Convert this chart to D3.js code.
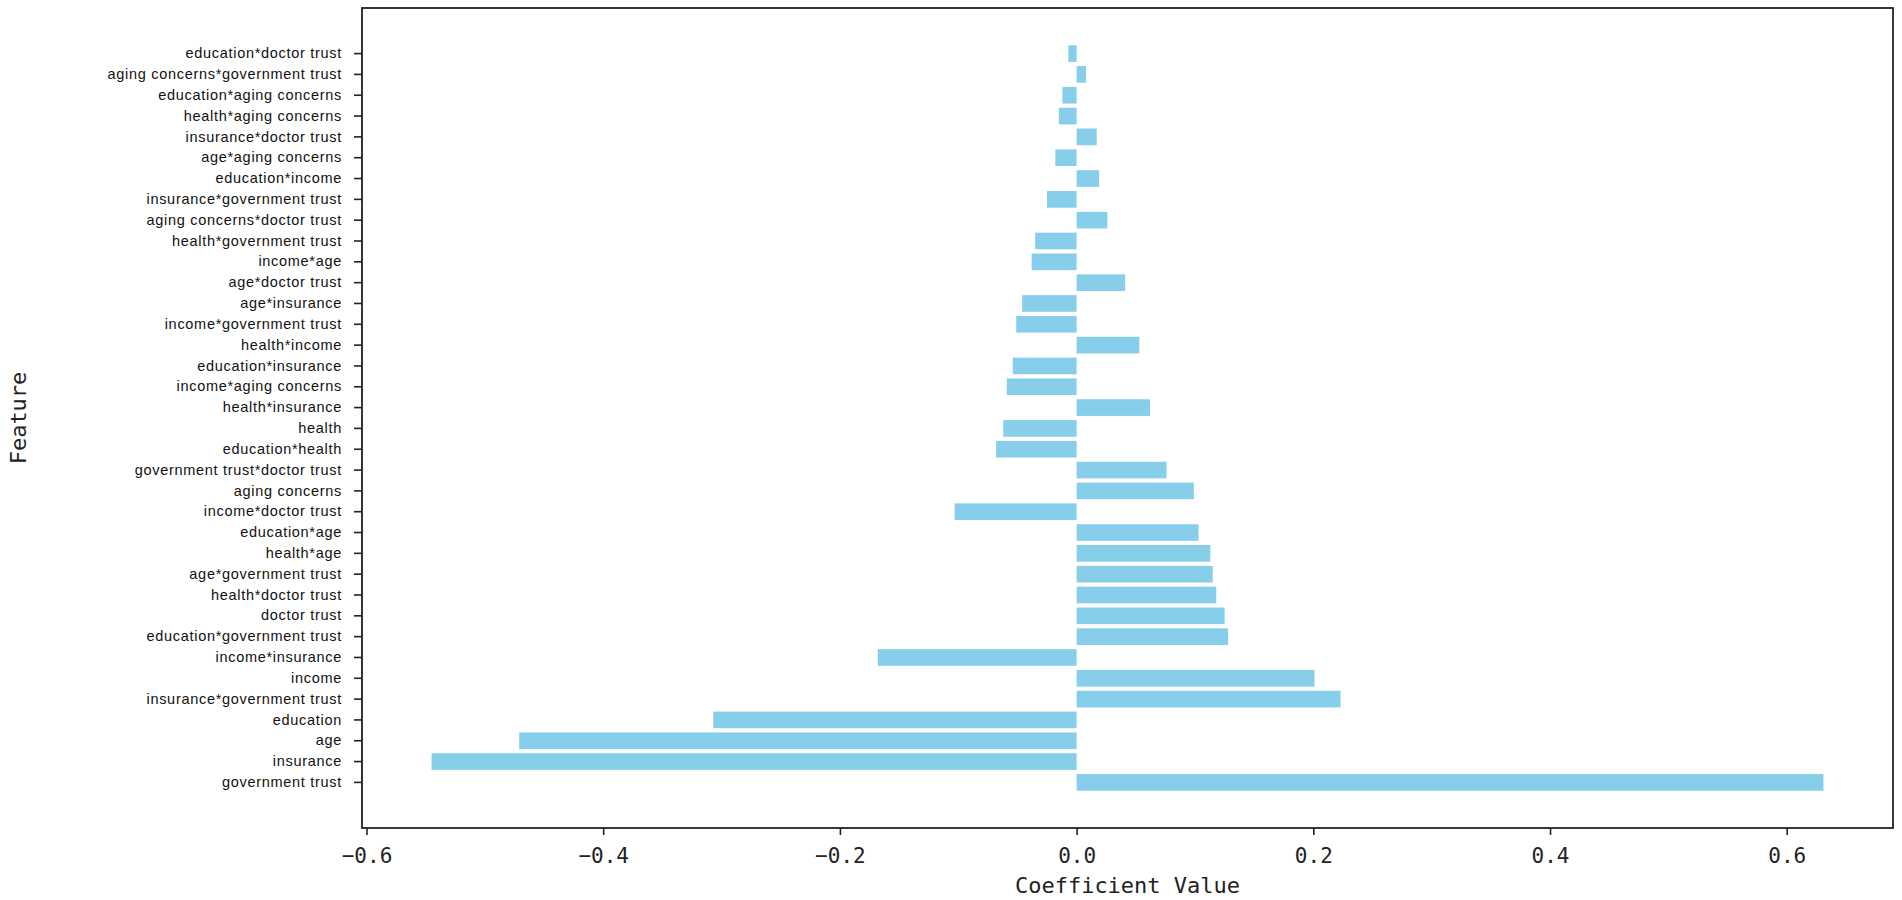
<!DOCTYPE html>
<html lang="en">

<head>
    <meta charset="UTF-8">
    <title>Coefficient Value by Feature</title>
    <script src="https://d3js.org/d3.v7.min.js"></script>
    <style>
        body { margin: 0; background: #fff; }
    </style>
</head>

<body>
    <script>
        // features, ordered from the bottom bar upwards
        var features = [
            "government trust", "insurance", "age", "education",
            "insurance*government trust", "income", "income*insurance",
            "education*government trust", "doctor trust", "health*doctor trust",
            "age*government trust", "health*age", "education*age",
            "income*doctor trust", "aging concerns", "government trust*doctor trust",
            "education*health", "health", "health*insurance",
            "income*aging concerns", "education*insurance", "health*income",
            "income*government trust", "age*insurance", "age*doctor trust",
            "income*age", "health*government trust", "aging concerns*doctor trust",
            "insurance*government trust", "education*income", "age*aging concerns",
            "insurance*doctor trust", "health*aging concerns", "education*aging concerns",
            "aging concerns*government trust", "education*doctor trust"
        ];
        var coefficients = [
            0.631, -0.545, -0.471, -0.307,
            0.223, 0.201, -0.168,
            0.128, 0.125, 0.118,
            0.115, 0.113, 0.103,
            -0.103, 0.099, 0.076,
            -0.068, -0.062, 0.062,
            -0.059, -0.054, 0.053,
            -0.051, -0.046, 0.041,
            -0.038, -0.035, 0.026,
            -0.025, 0.019, -0.018,
            0.017, -0.015, -0.012,
            0.008, -0.007
        ];
        var xTicks = [-0.6, -0.4, -0.2, 0.0, 0.2, 0.4, 0.6];

        var data = features.map(function (f, i) {
            return { feature: f, value: coefficients[i], key: i };
        });

        var width = 1902;
        var height = 900;
        var margin = { top: 8, right: 9, bottom: 72, left: 362 };

        var svg = d3.select("body").append("svg")
            .attr("width", width)
            .attr("height", height);

        // x domain with 5% margins like matplotlib
        var lo = d3.min(coefficients), hi = d3.max(coefficients);
        var pad = (hi - lo) * 0.05;
        var xScale = d3.scaleLinear()
            .domain([lo - pad, hi + pad])
            .range([margin.left, width - margin.right]);

        var yScale = d3.scaleBand()
            .domain(data.map(function (d) { return d.key; }))
            .range([height - margin.bottom, margin.top])
            .paddingInner(0.2)
            .paddingOuter(1.79);

        svg.selectAll("rect.bar")
            .data(data)
            .enter()
            .append("rect")
            .attr("class", "bar")
            .attr("fill", "#87ceeb")
            .attr("x", function (d) { return xScale(Math.min(0, d.value)); })
            .attr("y", function (d) { return yScale(d.key); })
            .attr("width", function (d) { return Math.abs(xScale(d.value) - xScale(0)); })
            .attr("height", yScale.bandwidth());

        // frame
        svg.append("rect")
            .attr("x", margin.left)
            .attr("y", margin.top)
            .attr("width", width - margin.right - margin.left)
            .attr("height", height - margin.bottom - margin.top)
            .attr("fill", "none")
            .attr("stroke", "#222")
            .attr("stroke-width", 1.8);

        var xaxis = d3.axisBottom(xScale)
            .tickValues(xTicks)
            .tickFormat(d3.format(".1f"))
            .tickSize(7)
            .tickPadding(13);

        var gx = svg.append("g")
            .attr("transform", "translate(0," + (height - margin.bottom) + ")")
            .call(xaxis);
        gx.select(".domain").remove();
        gx.selectAll("line").attr("stroke", "#222").attr("stroke-width", 1.6);
        gx.selectAll("text")
            .attr("fill", "#222")
            .style("font-family", "'DejaVu Sans Mono', monospace")
            .style("font-size", "21px");

        var yaxis = d3.axisLeft(yScale)
            .tickFormat(function (k) { return features[k]; })
            .tickSize(8)
            .tickPadding(12);

        var gy = svg.append("g")
            .attr("transform", "translate(" + margin.left + ",0)")
            .call(yaxis);
        gy.select(".domain").remove();
        gy.selectAll("line").attr("stroke", "#222").attr("stroke-width", 1.6);
        gy.selectAll("text")
            .attr("fill", "#111")
            .style("font-family", "'Liberation Sans', Arial, sans-serif")
            .style("font-size", "14.5px")
            .style("letter-spacing", "0.7px");

        // axis titles
        svg.append("text")
            .attr("x", (margin.left + width - margin.right) / 2)
            .attr("y", 893)
            .attr("text-anchor", "middle")
            .attr("fill", "#222")
            .style("font-family", "'DejaVu Sans Mono', monospace")
            .style("font-size", "22px")
            .text("Coefficient Value");

        svg.append("text")
            .attr("transform", "translate(26," + (margin.top + height - margin.bottom) / 2 + ") rotate(-90)")
            .attr("text-anchor", "middle")
            .attr("fill", "#222")
            .style("font-family", "'DejaVu Sans Mono', monospace")
            .style("font-size", "22px")
            .text("Feature");
    </script>
</body>

</html>
